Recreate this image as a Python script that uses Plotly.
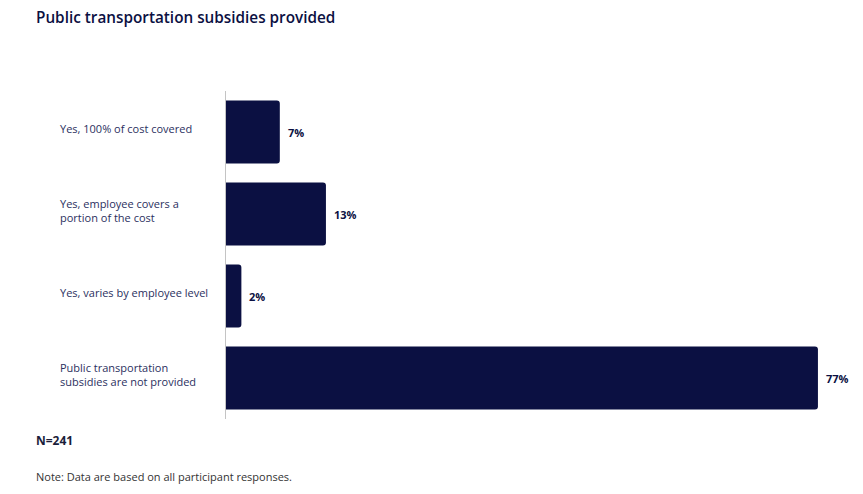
import plotly.graph_objects as go

categories = [
    "Yes, 100% of cost covered",
    "Yes, employee covers a<br>portion of the cost",
    "Yes, varies by employee level",
    "Public transportation<br>subsidies are not provided",
]
values = [7, 13, 2, 77]
value_labels = ["7%", "13%", "2%", "77%"]

NAVY = "#0b1042"
TEXT = "#2b3060"
FONT = "Open Sans"

W, H = 863, 494
L, R, T, B = 226, 22, 91, 75
plot_w = W - L - R


def xpaper(px):
    return (px - L) / plot_w


def ypaper(py):
    return 1 - (py - T) / (H - T - B)


fig = go.Figure(go.Bar(
    y=categories, x=values, orientation="h",
    marker=dict(color=NAVY, line=dict(width=0)),
    width=0.77, hoverinfo="skip",
))

for c, v, lab in zip(categories, values, value_labels):
    fig.add_annotation(x=v, y=c, xref="x", yref="y", text=f"<b>{lab}</b>",
                       showarrow=False, xanchor="left", xshift=6,
                       font=dict(family=FONT, size=11, color=NAVY))
    fig.add_annotation(x=xpaper(58), y=c, xref="paper", yref="y", text=c,
                       showarrow=False, xanchor="left", align="left", yshift=4,
                       font=dict(family=FONT, size=11, color=TEXT))

fig.add_annotation(x=xpaper(34), xref="paper", y=ypaper(17), yref="paper",
                   yanchor="middle", xanchor="left", showarrow=False,
                   text="Public transportation subsidies provided",
                   font=dict(family=FONT, size=15.3, color=NAVY, weight=600))
fig.add_annotation(x=xpaper(34), xref="paper", y=ypaper(440), yref="paper",
                   xanchor="left", yanchor="middle", showarrow=False,
                   text="<b>N=241</b>", font=dict(family=FONT, size=12, color="#1a1d3a"))
fig.add_annotation(x=xpaper(34), xref="paper", y=ypaper(476), yref="paper",
                   xanchor="left", yanchor="middle", showarrow=False,
                   text="Note: Data are based on all participant responses.",
                   font=dict(family=FONT, size=11, color="#333"))

fig.update_layout(
    width=W, height=H,
    margin=dict(l=L, r=R, t=T, b=B),
    paper_bgcolor="white", plot_bgcolor="white",
    barcornerradius=3,
    showlegend=False,
    xaxis=dict(range=[0, 80], visible=False, fixedrange=True),
    yaxis=dict(autorange="reversed", showticklabels=False, showgrid=False,
               zeroline=False, showline=True, linecolor="#c4c4c4", linewidth=1,
               ticks=""),
)

fig.write_html("out.html")
